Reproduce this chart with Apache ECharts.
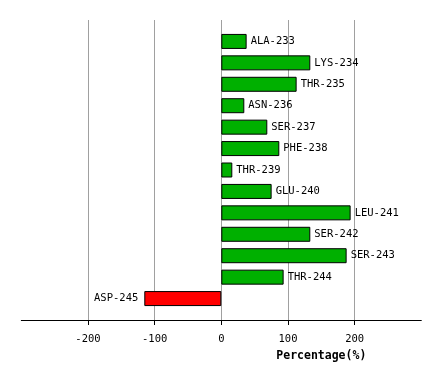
<!DOCTYPE html>
<html><head><meta charset="utf-8">
<script src="https://cdn.jsdelivr.net/npm/echarts@6/dist/echarts.min.js"></script>
<style>html,body{margin:0;padding:0;background:#fff}#c{width:441px;height:381px}</style>
</head><body><div id="c"></div>
<script>
var categories = ['ALA-233','LYS-234','THR-235','ASN-236','SER-237','PHE-238','THR-239','GLU-240','LEU-241','SER-242','SER-243','THR-244','ASP-245'];
var values = [38, 133.5, 113, 34.5, 69, 87, 16.5, 75.5, 194, 133.5, 188, 93.5, -115.5];
var xTicks = [-200, -100, 0, 100, 200];
var xTitle = 'Percentage(%)';

var font = 'DejaVu Sans Mono';
var chart = echarts.init(document.getElementById('c'), null, {renderer: 'canvas'});
var L = 21.3, R = 441 - 421.3;
var W = 421.3 - 21.3;
var step = 300 / 14;
var xMin = -300, xMax = 300;
var tMin = xTicks[0], tMax = xTicks[xTicks.length - 1];
var tL = L + W * (tMin - xMin) / (xMax - xMin);
var tR = R + W * (xMax - tMax) / (xMax - xMin);
chart.setOption({
  animation: false,
  grid: [
    {left: L, right: R, top: 20, height: 300},
    {left: L, right: R, top: 20 + step * 0.5, height: step * 13},
    {left: tL, right: tR, top: 20, height: 300},
    {left: tL, right: tR, top: 320, height: 5}
  ],
  xAxis: [
    {gridIndex: 0, type: 'value', min: xMin, max: xMax,
     axisLine: {show: true, onZero: false, lineStyle: {color: '#000', width: 1}},
     axisTick: {show: false}, axisLabel: {show: false}, splitLine: {show: false},
     name: xTitle, nameLocation: 'middle', nameGap: 30,
     nameTextStyle: {color: '#000', fontFamily: font, fontWeight: 'bold', fontSize: 11.5, padding: [0, 0, 0, 200]}
    },
    {gridIndex: 1, type: 'value', min: xMin, max: xMax, show: false, splitLine: {show: false}},
    {gridIndex: 2, type: 'value', min: tMin, max: tMax, interval: 100,
     axisLine: {show: false, onZero: false},
     axisTick: {show: false},
     axisLabel: {color: '#000', fontFamily: font, fontSize: 10.5, margin: 14},
     splitLine: {show: true, lineStyle: {color: '#a0a0a0', width: 1}}
    },
    {gridIndex: 3, type: 'value', min: tMin, max: tMax, interval: 100,
     axisLine: {show: false, onZero: false}, axisTick: {show: false}, axisLabel: {show: false},
     splitLine: {show: true, lineStyle: {color: '#000', width: 1}}
    }
  ],
  yAxis: [
    {gridIndex: 0, type: 'value', show: false, splitLine: {show: false}},
    {gridIndex: 1, type: 'category', data: categories, inverse: true, show: false},
    {gridIndex: 2, type: 'value', show: false, splitLine: {show: false}},
    {gridIndex: 3, type: 'value', show: false, splitLine: {show: false}}
  ],
  series: [{
    type: 'bar', xAxisIndex: 1, yAxisIndex: 1, barWidth: 15,
    data: values.map(function (v) {
      return {value: v,
        itemStyle: {color: v < 0 ? '#ff0000' : '#00b000', borderColor: '#000', borderWidth: 1},
        label: {position: v < 0 ? 'left' : 'right', distance: v < 0 ? 6 : 4}};
    }),
    label: {show: true, formatter: function (p) { return categories[p.dataIndex]; },
      color: '#000', fontFamily: font, fontSize: 10.5}
  }]
});
</script></body></html>
